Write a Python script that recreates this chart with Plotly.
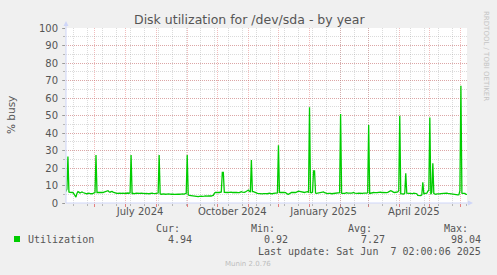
import pandas as pd
import plotly.graph_objects as go

# ---------------- data ----------------
start_date = "2024-05-03"
range_start = "2024-05-03 02:00:06"
range_end = "2025-06-07 02:00:06"

busy = [
    6.5, 8.0, 26.5, 6.3, 6.1, 6.0, 6.2, 6.0, 5.2, 4.5,
    3.4, 5.5, 6.5, 6.2, 5.7, 6.0, 6.3, 6.0, 5.7,
    5.5, 5.4, 5.3, 5.5, 5.6, 5.4, 5.2, 5.3, 5.5, 5.6,
    6.0, 27.4, 6.0,
    6.1, 6.0, 6.2, 6.1, 5.9, 6.0, 6.2, 6.4, 6.3, 6.8,
    7.0, 6.4, 6.1, 6.5, 6.6, 6.2, 5.9,
    5.6, 5.7, 5.5, 5.6, 5.8, 5.6, 5.5, 5.7, 5.6, 5.5, 5.6, 5.4, 5.6, 5.7, 5.5, 5.8,
    27.4,
    5.4, 5.5, 5.3, 5.4, 5.6, 5.5, 5.3, 5.4, 5.5, 5.6, 5.5, 5.3, 5.2, 5.4, 5.5, 5.6,
    5.4, 5.3, 5.5, 5.4, 5.6, 5.5, 5.3, 5.4, 5.5, 5.6, 5.7,
    27.4,
    5.2, 5.0, 5.1, 5.3, 5.2, 5.0, 4.9, 5.1, 5.2, 5.3, 5.1, 5.0, 5.2, 5.1, 4.9, 5.0,
    5.2, 5.3, 5.1, 5.0, 4.9, 5.1, 5.2, 5.0, 5.1, 5.3, 5.5,
    27.4,
    4.6, 4.3, 4.2, 4.1, 4.3, 4.2, 4.0, 3.9,
    3.8, 3.9, 3.7, 3.8, 4.0, 3.9, 3.8, 3.7, 3.9, 4.0, 3.8, 3.9, 4.1, 4.0, 3.9, 4.0, 4.2, 4.3,
    5.5,
    6.1, 6.0, 6.2, 6.1, 6.0, 6.1, 6.3,
    17.5, 17.5,
    6.1, 6.0, 6.2, 6.1, 6.0, 6.1, 6.3, 6.2, 6.0, 6.1, 6.0, 5.9, 6.1, 6.0, 5.9, 5.9,
    6.2, 6.5, 6.2, 6.0, 6.1, 6.3, 6.6, 7.2, 7.4, 6.6, 6.5,
    24.6,
    6.5, 6.5, 6.3, 6.4, 5.8, 5.5, 5.4, 5.6, 5.5, 5.3, 5.2, 5.4, 5.5, 5.6, 5.4, 5.3,
    5.5, 5.6, 5.4, 5.2, 5.3, 5.5, 5.6, 5.4, 5.5, 5.8,
    33.0,
    6.1, 6.0, 6.1, 6.2, 6.0, 6.1, 6.0, 5.4, 5.1, 5.0, 5.4, 6.0, 6.1, 6.0, 5.9, 6.1,
    6.0, 6.2, 6.6, 6.8, 6.7, 6.6, 6.1, 6.0, 6.1, 6.0, 6.2, 6.4, 6.5, 6.2,
    54.7,
    6.0, 5.8, 6.2, 18.3, 18.3, 5.7,
    5.5, 5.6, 5.4, 5.5, 5.6, 5.8, 6.0, 6.3, 5.9, 5.6, 5.5, 5.4, 5.5, 5.6, 5.5, 5.3,
    5.4, 5.5, 5.6, 5.5, 5.4, 5.6, 5.7, 5.9,
    50.9,
    5.6, 5.5, 5.4, 5.5, 5.7, 5.9, 5.6, 5.5, 5.4, 5.5, 5.6, 5.8, 6.0, 5.7, 5.5, 5.4,
    5.5, 5.6, 5.5, 5.4, 5.3, 5.5, 5.6, 5.5, 5.4, 5.6, 5.8,
    44.6,
    5.5, 5.7, 5.9, 5.9, 6.0, 5.9, 5.8, 5.9, 6.0, 6.1, 6.3, 6.2, 6.0, 5.9, 5.8, 5.9,
    6.0, 5.9, 6.1, 6.4, 7.0, 7.0, 6.8, 6.3, 6.1, 6.0, 6.1, 6.2, 6.4, 7.0,
    49.9,
    5.3, 5.1, 5.0, 5.1, 5.6,
    17.0,
    5.6, 5.5, 5.4, 5.5, 5.6, 5.5, 5.4, 5.6, 5.5, 5.4, 5.3, 4.3, 4.2, 4.1, 4.2, 4.6,
    11.8,
    5.3, 5.5, 5.4, 5.6, 6.8, 7.2,
    48.8, 5.0, 6.2, 22.7,
    5.4, 5.1, 5.0, 5.2, 5.1, 5.0, 5.2, 5.4, 5.5, 5.6, 5.5, 5.4, 5.5, 5.6, 5.5, 5.4,
    5.3, 5.2, 5.1, 5.0, 4.8, 4.7, 4.6, 4.6, 4.7, 4.8, 7.0,
    67.0,
    5.6, 5.5, 5.4, 5.5, 4.9, 4.94,
]

month_starts = pd.date_range("2024-06-01", "2025-06-01", freq="MS")
label_dates = ["2024-07-16", "2024-10-16", "2025-01-15", "2025-04-15"]
label_text = ["July 2024", "October 2024", "January 2025", "April 2025"]
minor_grid_anchor = "2025-02-01"
y_ticks = list(range(0, 101, 10))

series_name = "Utilization"
stat_names = ["Cur:", "Min:", "Avg:", "Max:"]
stat_values = ["4.94", "0.92", "7.27", "98.04"]
title_text = "Disk utilization for /dev/sda - by year"
y_title = "% busy"
last_update = "Last update: Sat Jun  7 02:00:06 2025"
footer = "Munin 2.0.76"
side_text = "RRDTOOL / TOBI OETIKER"

# ---------------- layout helpers ----------------
W, H = 497, 275
PL, PR, PT, PB = 66, 467, 28, 203
GREEN = "#00CC00"
FONT_C = "#555555"
RED_GRID = "rgba(222,79,79,0.38)"
GRAY_GRID = "rgba(143,143,143,0.32)"
AXIS_C = "#CFD6F8"


def px(xp):
    return (xp - PL) / (PR - PL)


def py(yp):
    return (PB - yp) / (PB - PT)


dates = pd.date_range(start_date, periods=len(busy), freq="D")

fig = go.Figure()
fig.add_trace(go.Scatter(x=dates, y=busy, mode="lines",
                         line=dict(color=GREEN, width=1.3),
                         showlegend=False, hoverinfo="skip"))
fig.add_trace(go.Scatter(x=[], y=[], xaxis="x2", showlegend=False))

fig.update_layout(
    width=W, height=H, autosize=False,
    margin=dict(l=PL, r=W - PR, t=PT, b=H - PB, pad=0),
    paper_bgcolor="#F0F0F0", plot_bgcolor="#FFFFFF",
    font=dict(family="DejaVu Sans", color=FONT_C, size=10),
    xaxis=dict(
        type="date", range=[range_start, range_end],
        tickmode="array", tickvals=label_dates, ticktext=label_text,
        ticks="", showgrid=False, zeroline=False, showline=False,
        tickfont=dict(size=10, color=FONT_C, family="DejaVu Sans"),
        ticklabelstandoff=1,
        minor=dict(tickmode="array", tickvals=list(month_starts),
                   showgrid=True, gridcolor=RED_GRID, gridwidth=1,
                   griddash="1px,1px", ticks="outside", ticklen=3,
                   tickcolor="rgba(222,79,79,0.7)", tickwidth=1),
    ),
    xaxis2=dict(
        type="date", overlaying="x", matches="x", anchor="y",
        range=[range_start, range_end],
        tick0=minor_grid_anchor, dtick=14 * 86400000,
        showgrid=True, gridcolor=GRAY_GRID, gridwidth=1, griddash="1px,1px",
        showticklabels=False, ticks="outside", ticklen=2,
        tickcolor="rgba(143,143,143,0.6)", zeroline=False, showline=False,
    ),
    yaxis=dict(
        range=[0, 100], tickmode="array", tickvals=y_ticks,
        showgrid=True, gridcolor=RED_GRID, gridwidth=1, griddash="1px,1px",
        zeroline=False, showline=False,
        ticks="outside", ticklen=3, tickcolor="rgba(143,143,143,0.7)",
        tickfont=dict(size=10, color=FONT_C, family="DejaVu Sans"),
        ticklabelstandoff=2,
        minor=dict(dtick=5, showgrid=True, gridcolor=GRAY_GRID,
                   griddash="1px,1px", ticks="outside", ticklen=2,
                   tickcolor="rgba(143,143,143,0.6)"),
    ),
)

shapes = []
# axis lines
shapes.append(dict(type="line", xref="paper", yref="paper",
                   x0=px(PL), x1=px(470), y0=0, y1=0,
                   line=dict(color=AXIS_C, width=1)))
shapes.append(dict(type="line", xref="paper", yref="paper",
                   x0=0, x1=0, y0=0, y1=py(24),
                   line=dict(color=AXIS_C, width=1)))
# arrows
shapes.append(dict(type="path", xref="paper", yref="paper",
                   path=f"M {px(468)},{py(200.5)} L {px(473)},{py(203)} L {px(468)},{py(205.5)} Z",
                   fillcolor=AXIS_C, line=dict(width=0)))
shapes.append(dict(type="path", xref="paper", yref="paper",
                   path=f"M {px(63.5)},{py(26)} L {px(66)},{py(21)} L {px(68.5)},{py(26)} Z",
                   fillcolor=AXIS_C, line=dict(width=0)))
# legend swatch
shapes.append(dict(type="rect", xref="paper", yref="paper",
                   x0=px(14), x1=px(20), y0=py(242), y1=py(236),
                   fillcolor=GREEN, line=dict(width=0)))
fig.update_layout(shapes=shapes)

MONO = "DejaVu Sans Mono"


def note(text, x, y, size, xanchor="center", family="DejaVu Sans",
         color=FONT_C, angle=0):
    fig.add_annotation(text=text, x=px(x), y=py(y), xref="paper", yref="paper",
                       showarrow=False, xanchor=xanchor, yanchor="middle",
                       textangle=angle,
                       font=dict(size=size, family=family, color=color))


note(title_text, 249, 19, 12.5)
note(y_title, 11, 115, 10.5, angle=-90)
note(side_text, 486, 56, 7, color="#C4C4C4", angle=90)

stat_right = [182, 277, 374, 470]
val_right = [194, 290, 387, 483]
for s, xr in zip(stat_names, stat_right):
    note(s, xr, 228, 10, xanchor="right", family=MONO)
for v, xr in zip(stat_values, val_right):
    note(v, xr, 239.5, 10, xanchor="right", family=MONO)
note(series_name, 25.5, 239.5, 10, xanchor="left", family=MONO)
note(last_update, 483, 251, 10, xanchor="right", family=MONO)
note(footer, 248, 264, 7, color="#BDBDBD")

fig.write_html("out.html")
